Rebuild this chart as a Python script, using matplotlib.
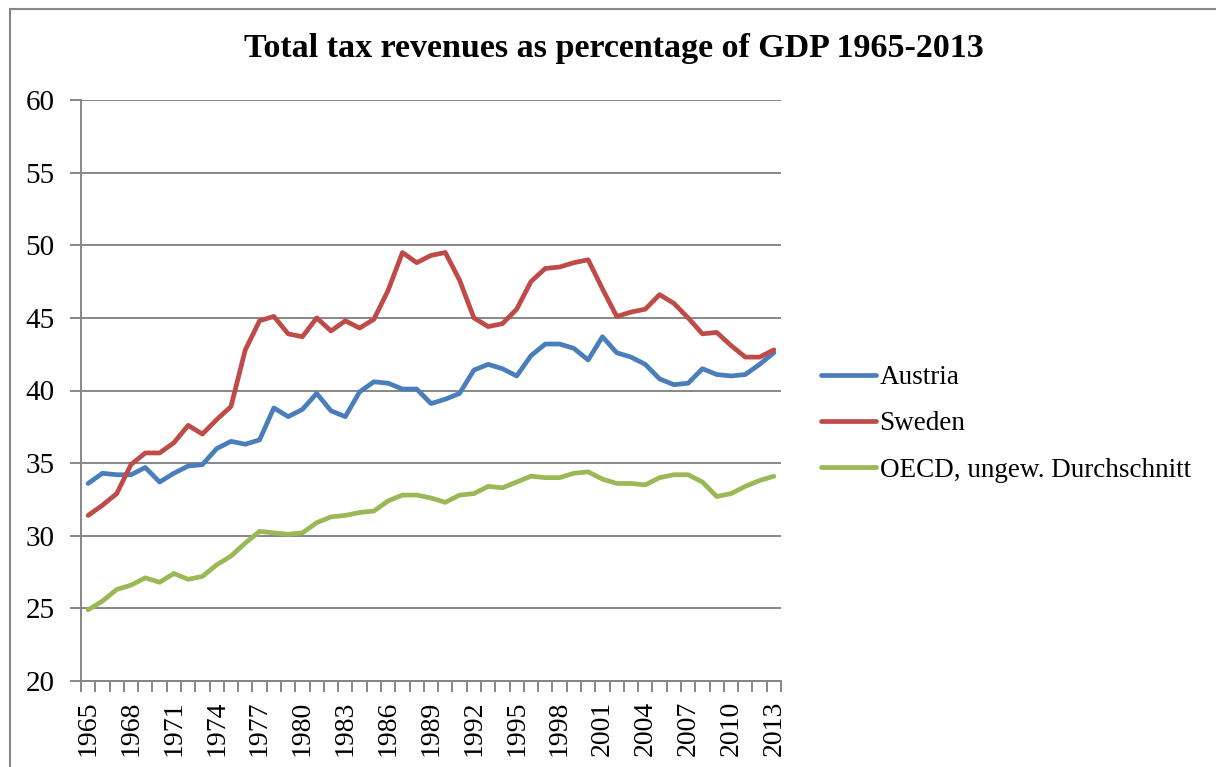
import numpy as np
import matplotlib.pyplot as plt
from matplotlib.patches import Rectangle

# Steuerquote in % des BIP, 1965-2013
years = list(range(1965, 2014))
austria = [33.6, 34.3, 34.2, 34.2, 34.7, 33.7, 34.3, 34.8, 34.9, 36.0,
           36.5, 36.3, 36.6, 38.8, 38.2, 38.7, 39.8, 38.6, 38.2, 39.9,
           40.6, 40.5, 40.1, 40.1, 39.1, 39.4, 39.8, 41.4, 41.8, 41.5,
           41.0, 42.4, 43.2, 43.2, 42.9, 42.1, 43.7, 42.6, 42.3, 41.8,
           40.8, 40.4, 40.5, 41.5, 41.1, 41.0, 41.1, 41.8, 42.6]
sweden = [31.4, 32.1, 32.9, 34.9, 35.7, 35.7, 36.4, 37.6, 37.0, 38.0,
          38.9, 42.8, 44.8, 45.1, 43.9, 43.7, 45.0, 44.1, 44.8, 44.3,
          44.9, 46.9, 49.5, 48.8, 49.3, 49.5, 47.6, 45.0, 44.4, 44.6,
          45.6, 47.5, 48.4, 48.5, 48.8, 49.0, 47.0, 45.1, 45.4, 45.6,
          46.6, 46.0, 45.0, 43.9, 44.0, 43.1, 42.3, 42.3, 42.8]
oecd = [24.9, 25.5, 26.3, 26.6, 27.1, 26.8, 27.4, 27.0, 27.2, 28.0,
        28.6, 29.5, 30.3, 30.2, 30.1, 30.2, 30.9, 31.3, 31.4, 31.6,
        31.7, 32.4, 32.8, 32.8, 32.6, 32.3, 32.8, 32.9, 33.4, 33.3,
        33.7, 34.1, 34.0, 34.0, 34.3, 34.4, 33.9, 33.6, 33.6, 33.5,
        34.0, 34.2, 34.2, 33.7, 32.7, 32.9, 33.4, 33.8, 34.1]
labels = ['Austria', 'Sweden', 'OECD, ungew. Durchschnitt']
colors = ['#4A7EBB', '#BE4B48', '#98B954']

plt.rcParams['font.family'] = ['Liberation Serif', 'DejaVu Serif']
grid_col = '#878787'

fig = plt.figure(figsize=(12.16, 7.67), dpi=100)
ax = fig.add_axes([81 / 1216, 86 / 767, 700 / 1216, 581 / 767])

x = np.arange(len(years))
for series, lab, col in zip([austria, sweden, oecd], labels, colors):
    ax.plot(x, series, color=col, lw=3.4, label=lab, solid_capstyle='round')

ax.set_xlim(-0.5, len(years) - 0.5)
ax.set_ylim(20, 60)
ax.set_yticks(range(20, 61, 5))
ax.yaxis.grid(True, color=grid_col, lw=1.4)
ax.set_axisbelow(True)

ax.set_xticks(x[::3])
ax.set_xticklabels([str(y) for y in years[::3]], rotation=90)
ax.set_xticks(np.arange(len(years) + 1) - 0.5, minor=True)
ax.tick_params(axis='x', which='major', length=0, pad=14, labelsize=20)
ax.tick_params(axis='x', which='minor', length=8, width=1.4, color=grid_col, direction='out')
ax.tick_params(axis='y', length=8, width=1.4, color=grid_col, labelsize=21, pad=11)

for side in ['top', 'right']:
    ax.spines[side].set_visible(False)
for side in ['left', 'bottom']:
    ax.spines[side].set_color(grid_col)
    ax.spines[side].set_linewidth(1.4)

fig.text(614 / 1216, 1 - 48 / 767, 'Total tax revenues as percentage of GDP 1965-2013',
         ha='center', va='center', fontsize=24.5, fontweight='bold')

fig.legend(loc='center left', bbox_to_anchor=(797 / 1216, 1 - 424 / 767),
           frameon=False, fontsize=19.5, handlelength=2.0, handletextpad=0.15,
           labelspacing=0.79)

# Rahmen um das Diagramm
fig.add_artist(Rectangle((10 / 1216, -0.1), 1.2, 1.1 - 9 / 767,
                         transform=fig.transFigure, fill=False,
                         edgecolor=grid_col, lw=1.5))

fig.savefig('out.png', dpi=100)
